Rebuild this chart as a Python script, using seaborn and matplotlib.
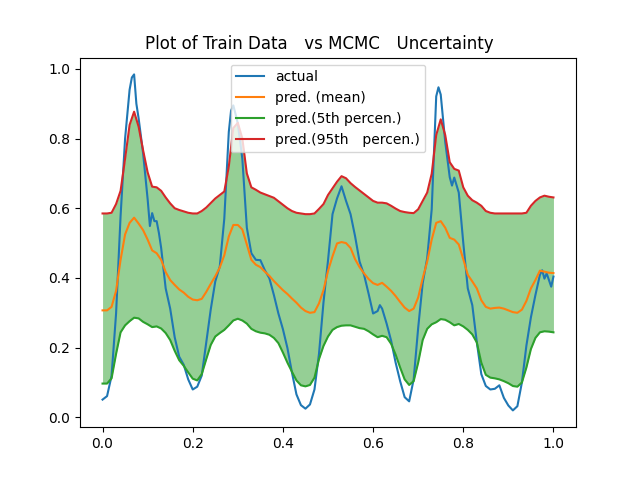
import numpy as np
import pandas as pd
import matplotlib
matplotlib.use("Agg")
import matplotlib.pyplot as plt
import seaborn as sns

# values
x_grid = np.linspace(0.0, 1.0, 101)

pred_95 = [0.585, 0.585, 0.587, 0.612, 0.650, 0.742, 0.839, 0.877, 0.834, 0.766,
           0.703, 0.662, 0.660, 0.650, 0.631, 0.614, 0.600, 0.595, 0.591, 0.587,
           0.585, 0.585, 0.592, 0.602, 0.615, 0.628, 0.638, 0.648, 0.720, 0.830,
           0.845, 0.800, 0.700, 0.660, 0.653, 0.645, 0.640, 0.635, 0.630, 0.620,
           0.610, 0.600, 0.592, 0.587, 0.585, 0.583, 0.583, 0.585, 0.598, 0.612,
           0.638, 0.657, 0.676, 0.692, 0.686, 0.672, 0.661, 0.651, 0.641, 0.631,
           0.621, 0.616, 0.616, 0.614, 0.607, 0.599, 0.592, 0.589, 0.587, 0.586,
           0.597, 0.621, 0.645, 0.699, 0.810, 0.855, 0.810, 0.732, 0.713, 0.708,
           0.660, 0.636, 0.623, 0.616, 0.607, 0.592, 0.587, 0.585, 0.585, 0.585,
           0.585, 0.585, 0.585, 0.585, 0.587, 0.607, 0.621, 0.631, 0.636, 0.633,
           0.631]

pred_mean = [0.307, 0.307, 0.317, 0.363, 0.452, 0.525, 0.558, 0.573, 0.556, 0.537,
             0.510, 0.479, 0.471, 0.452, 0.417, 0.394, 0.380, 0.367, 0.358, 0.346,
             0.338, 0.336, 0.340, 0.360, 0.383, 0.405, 0.430, 0.465, 0.519, 0.552,
             0.552, 0.539, 0.496, 0.452, 0.438, 0.431, 0.418, 0.406, 0.391, 0.378,
             0.365, 0.354, 0.341, 0.329, 0.315, 0.305, 0.300, 0.302, 0.327, 0.365,
             0.420, 0.462, 0.499, 0.503, 0.500, 0.486, 0.454, 0.431, 0.413, 0.397,
             0.385, 0.380, 0.386, 0.375, 0.363, 0.348, 0.331, 0.315, 0.305, 0.312,
             0.344, 0.399, 0.447, 0.510, 0.558, 0.563, 0.544, 0.515, 0.510, 0.496,
             0.454, 0.409, 0.390, 0.370, 0.336, 0.317, 0.312, 0.314, 0.315, 0.312,
             0.307, 0.302, 0.300, 0.309, 0.334, 0.370, 0.394, 0.421, 0.418, 0.415,
             0.414]

pred_05 = [0.097, 0.097, 0.112, 0.182, 0.244, 0.264, 0.276, 0.286, 0.284, 0.274,
           0.267, 0.259, 0.261, 0.255, 0.242, 0.222, 0.191, 0.164, 0.148, 0.129,
           0.111, 0.106, 0.124, 0.167, 0.208, 0.232, 0.242, 0.251, 0.264, 0.278,
           0.283, 0.278, 0.269, 0.254, 0.247, 0.243, 0.241, 0.237, 0.228, 0.213,
           0.186, 0.157, 0.131, 0.106, 0.092, 0.089, 0.093, 0.114, 0.167, 0.205,
           0.232, 0.251, 0.259, 0.263, 0.264, 0.264, 0.260, 0.256, 0.254, 0.247,
           0.238, 0.230, 0.234, 0.230, 0.211, 0.180, 0.143, 0.109, 0.093, 0.104,
           0.157, 0.222, 0.254, 0.267, 0.273, 0.282, 0.280, 0.273, 0.264, 0.268,
           0.261, 0.251, 0.238, 0.215, 0.157, 0.122, 0.114, 0.112, 0.109, 0.104,
           0.098, 0.090, 0.088, 0.100, 0.143, 0.196, 0.228, 0.244, 0.247, 0.246,
           0.244]

x_actual = [0.000, 0.010, 0.020, 0.030, 0.040, 0.050, 0.060, 0.065, 0.070, 0.075,
            0.080, 0.090, 0.100, 0.105, 0.110, 0.115, 0.120, 0.125, 0.130, 0.140,
            0.150, 0.160, 0.170, 0.180, 0.190, 0.200, 0.210, 0.220, 0.230, 0.240,
            0.250, 0.260, 0.270, 0.280, 0.285, 0.290, 0.295, 0.300, 0.310, 0.320,
            0.330, 0.340, 0.350, 0.360, 0.370, 0.380, 0.390, 0.400, 0.410, 0.420,
            0.430, 0.440, 0.450, 0.460, 0.470, 0.480, 0.490, 0.500, 0.510, 0.520,
            0.530, 0.540, 0.550, 0.560, 0.570, 0.580, 0.590, 0.600, 0.610, 0.615,
            0.620, 0.630, 0.640, 0.650, 0.660, 0.670, 0.680, 0.690, 0.700, 0.710,
            0.720, 0.730, 0.740, 0.745, 0.750, 0.760, 0.770, 0.775, 0.780, 0.790,
            0.800, 0.810, 0.820, 0.830, 0.840, 0.850, 0.860, 0.870, 0.880, 0.890,
            0.900, 0.910, 0.920, 0.930, 0.940, 0.950, 0.960, 0.970, 0.975, 0.980,
            0.985, 0.990, 0.995, 1.000]

actual = [0.051, 0.061, 0.119, 0.298, 0.578, 0.800, 0.940, 0.975, 0.984, 0.900,
          0.858, 0.757, 0.626, 0.549, 0.586, 0.563, 0.563, 0.529, 0.486, 0.370,
          0.312, 0.230, 0.174, 0.151, 0.109, 0.080, 0.088, 0.120, 0.215, 0.310,
          0.390, 0.433, 0.570, 0.819, 0.880, 0.895, 0.870, 0.843, 0.742, 0.544,
          0.471, 0.452, 0.451, 0.422, 0.399, 0.351, 0.298, 0.253, 0.199, 0.129,
          0.066, 0.035, 0.025, 0.037, 0.080, 0.182, 0.330, 0.450, 0.583, 0.628,
          0.663, 0.621, 0.583, 0.520, 0.447, 0.409, 0.355, 0.298, 0.305, 0.322,
          0.312, 0.269, 0.220, 0.157, 0.104, 0.058, 0.046, 0.109, 0.257, 0.385,
          0.457, 0.597, 0.921, 0.947, 0.926, 0.790, 0.689, 0.665, 0.688, 0.645,
          0.501, 0.370, 0.322, 0.216, 0.124, 0.090, 0.080, 0.082, 0.092, 0.056,
          0.034, 0.020, 0.032, 0.100, 0.206, 0.287, 0.351, 0.409, 0.422, 0.398,
          0.413, 0.394, 0.375, 0.404]

title = "Plot of Train Data\u3000vs MCMC\u3000Uncertainty\u3000"
labels = ["actual", "pred. (mean)", "pred.(5th percen.)", "pred.(95th\u3000percen.)"]

plt.rcParams["font.family"] = ["DejaVu Sans", "Noto Sans CJK JP"]

pred = pd.DataFrame({"x": x_grid, "mean": pred_mean, "p05": pred_05, "p95": pred_95})
act = pd.DataFrame({"x": x_actual, "y": actual})

fig, ax = plt.subplots(figsize=(6.4, 4.8), dpi=100)

ax.fill_between(pred["x"], pred["p05"], pred["p95"], color="tab:green", alpha=0.5, linewidth=0)

sns.lineplot(data=act, x="x", y="y", ax=ax, color="tab:blue", label=labels[0])
sns.lineplot(data=pred, x="x", y="mean", ax=ax, color="tab:orange", label=labels[1])
sns.lineplot(data=pred, x="x", y="p05", ax=ax, color="tab:green", label=labels[2])
sns.lineplot(data=pred, x="x", y="p95", ax=ax, color="tab:red", label=labels[3])

ax.set_xlabel("")
ax.set_ylabel("")
ax.set_title(title)
ax.legend(loc="upper center")

fig.savefig("out.png", dpi=100)
